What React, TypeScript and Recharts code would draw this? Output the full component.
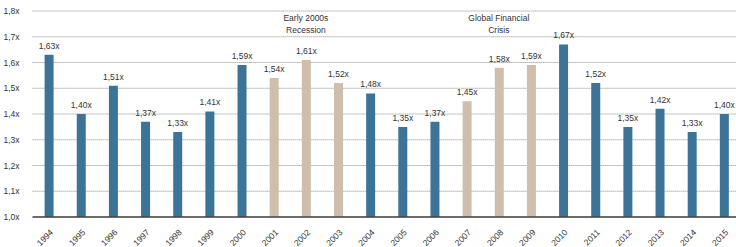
import { BarChart, Bar, XAxis, YAxis, CartesianGrid, Cell, LabelList, ReferenceDot } from "recharts";

const years = [
  "1994", "1995", "1996", "1997", "1998", "1999", "2000", "2001", "2002", "2003", "2004",
  "2005", "2006", "2007", "2008", "2009", "2010", "2011", "2012", "2013", "2014", "2015",
];
const multiples = [
  1.63, 1.4, 1.51, 1.37, 1.33, 1.41, 1.59, 1.54, 1.61, 1.52, 1.48,
  1.35, 1.37, 1.45, 1.58, 1.59, 1.67, 1.52, 1.35, 1.42, 1.33, 1.4,
];
const crisisYears = ["2001", "2002", "2003", "2007", "2008", "2009"];
const yTicks = [1.0, 1.1, 1.2, 1.3, 1.4, 1.5, 1.6, 1.7, 1.8];

const data = years.map((year, i) => ({ year, value: multiples[i] }));

const BLUE = "#3e7398";
const TAN = "#cfbeac";
const FONT = "'Liberation Sans', Arial, sans-serif";

const fmt = (v: number) => `${v.toFixed(2).replace(".", ",")}x`;
const fmtTick = (v: number) => `${v.toFixed(1).replace(".", ",")}x`;

const YearTick = ({ x, y, payload }: any) => (
  <text
    x={x + 5}
    y={y + 8}
    transform={`rotate(-45 ${x + 5} ${y + 8})`}
    textAnchor="end"
    fontSize={8.5}
    fontFamily={FONT}
    fill="#333"
  >
    {payload.value}
  </text>
);

const annotation = (line1: string, line2: string) => (props: any) => {
  const { viewBox } = props;
  const cx = viewBox.x + viewBox.width / 2;
  const cy = viewBox.y + viewBox.height / 2;
  return (
    <text textAnchor="middle" fontSize={8.5} fontFamily={FONT} fill="#333">
      <tspan x={cx} y={cy + 10}>{line1}</tspan>
      <tspan x={cx} y={cy + 22}>{line2}</tspan>
    </text>
  );
};

export default function App() {
  return (
    <div style={{ position: "absolute", left: 0, top: 0, width: 736, height: 247, overflow: "hidden", background: "#fff" }}>
      <BarChart width={741} height={247} data={data} margin={{ top: 11, right: 1, left: 0.6, bottom: 0 }}>
        <CartesianGrid vertical={false} stroke="#8a8a8a" strokeDasharray="1 1" />
        <XAxis
          dataKey="year"
          height={30}
          interval={0}
          tickLine={false}
          axisLine={{ stroke: "#444", strokeWidth: 1.5 }}
          tick={<YearTick />}
        />
        <YAxis
          width={32}
          domain={[1, 1.8]}
          ticks={yTicks}
          tickFormatter={fmtTick}
          axisLine={false}
          tickLine={false}
          tickMargin={7}
          tick={{ fontSize: 8.5, fontFamily: FONT, fill: "#333" }}
        />
        <Bar dataKey="value" barSize={9} isAnimationActive={false}>
          {data.map((d) => (
            <Cell key={d.year} fill={crisisYears.includes(d.year) ? TAN : BLUE} />
          ))}
          <LabelList
            dataKey="value"
            position="top"
            offset={6}
            formatter={(v: any) => fmt(Number(v))}
            style={{ fontSize: 8.5, fontFamily: FONT, fill: "#333" }}
          />
        </Bar>
        <ReferenceDot x="2002" y={1.8} r={0} label={annotation("Early 2000s", "Recession")} />
        <ReferenceDot x="2008" y={1.8} r={0} label={annotation("Global Financial", "Crisis")} />
      </BarChart>
    </div>
  );
}
